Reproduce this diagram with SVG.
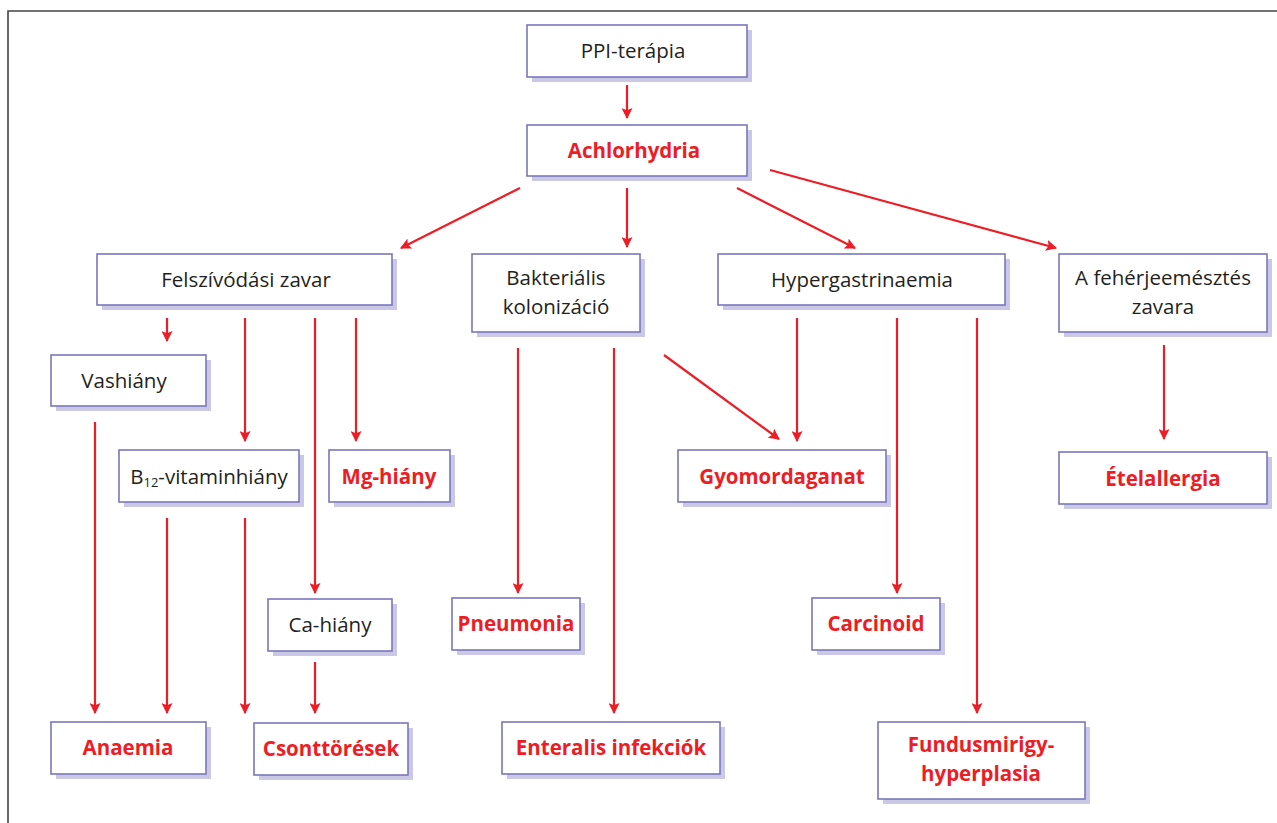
<svg xmlns="http://www.w3.org/2000/svg" width="1277" height="823" viewBox="0 0 1277 823">
<defs>
<style>
.sh{fill:#cac8e4}
.bx{fill:#fff;stroke:#7a76bf;stroke-width:1.6}
.t{font-family:"Open Sans","Noto Sans",sans-serif;font-size:20.5px;fill:#231f20;text-anchor:middle}
.r{font-family:"Open Sans","Noto Sans",sans-serif;font-size:20.5px;font-weight:bold;fill:#ee1c25;text-anchor:middle}
.c line{stroke:#ee1c25;stroke-width:2.2;marker-end:url(#ah)}
</style>
<marker id="ah" viewBox="0 0 10 10" refX="9" refY="5" markerWidth="5.5" markerHeight="5" orient="auto" markerUnits="strokeWidth">
<path d="M0,0 L10,5 L0,10 L2,5 Z" fill="#ee1c25"/>
</marker>
</defs>
<rect width="1277" height="823" fill="#fff"/>
<path d="M8,823 V11 H1277" fill="none" stroke="#444" stroke-width="1.6"/>

<g class="c">
<line x1="627" y1="85" x2="627" y2="118"/>
<line x1="520" y1="188" x2="401" y2="248"/>
<line x1="627" y1="188" x2="627" y2="247"/>
<line x1="737" y1="188" x2="855" y2="248"/>
<line x1="770" y1="170" x2="1056" y2="248"/>
<line x1="167" y1="318" x2="167" y2="341"/>
<line x1="245" y1="318" x2="245" y2="441"/>
<line x1="315" y1="318" x2="315" y2="593"/>
<line x1="356" y1="318" x2="356" y2="441"/>
<line x1="95" y1="422" x2="95" y2="713"/>
<line x1="167" y1="518" x2="167" y2="713"/>
<line x1="245" y1="518" x2="245" y2="713"/>
<line x1="315" y1="662" x2="315" y2="713"/>
<line x1="518" y1="348" x2="518" y2="593"/>
<line x1="614" y1="348" x2="614" y2="713"/>
<line x1="664" y1="355" x2="779" y2="439"/>
<line x1="797" y1="318" x2="797" y2="441"/>
<line x1="897" y1="318" x2="897" y2="593"/>
<line x1="977" y1="318" x2="977" y2="713"/>
<line x1="1164" y1="345" x2="1164" y2="439"/>
</g>

<g id="ppi"><rect class="sh" x="532" y="30" width="220" height="52"/><rect class="bx" x="527" y="25" width="220" height="52"/><text class="t" x="633" y="58">PPI-terápia</text></g>
<g id="achlorhydria"><rect class="sh" x="532" y="130" width="220" height="51"/><rect class="bx" x="527" y="125" width="220" height="51"/><text class="r" x="634" y="158">Achlorhydria</text></g>
<g id="felszivodasi"><rect class="sh" x="102" y="259" width="295" height="51"/><rect class="bx" x="97" y="254" width="295" height="51"/><text class="t" x="246" y="287">Felszívódási zavar</text></g>
<g id="bakterialis"><rect class="sh" x="477" y="259" width="168" height="78"/><rect class="bx" x="472" y="254" width="168" height="78"/><text class="t" x="556" y="285">Bakteriális</text><text class="t" x="556" y="314">kolonizáció</text></g>
<g id="hypergastrinaemia"><rect class="sh" x="723" y="259" width="287" height="51"/><rect class="bx" x="718" y="254" width="287" height="51"/><text class="t" x="862" y="287">Hypergastrinaemia</text></g>
<g id="feherje"><rect class="sh" x="1064" y="259" width="208" height="78"/><rect class="bx" x="1059" y="254" width="208" height="78"/><text class="t" x="1163" y="285">A fehérjeemésztés</text><text class="t" x="1163" y="314">zavara</text></g>
<g id="vashiany"><rect class="sh" x="56" y="360" width="155" height="51"/><rect class="bx" x="51" y="355" width="155" height="51"/><text class="t" x="124" y="388">Vashiány</text></g>
<g id="b12"><rect class="sh" x="124" y="455" width="180" height="52"/><rect class="bx" x="119" y="450" width="180" height="52"/><text class="t" x="209" y="484">B<tspan font-size="13" dy="3">12</tspan><tspan dy="-3">-vitaminhiány</tspan></text></g>
<g id="mg"><rect class="sh" x="334" y="455" width="121" height="52"/><rect class="bx" x="329" y="450" width="121" height="52"/><text class="r" x="389" y="484">Mg-hiány</text></g>
<g id="gyomordaganat"><rect class="sh" x="683" y="455" width="208" height="52"/><rect class="bx" x="678" y="450" width="208" height="52"/><text class="r" x="782" y="484">Gyomordaganat</text></g>
<g id="etelallergia"><rect class="sh" x="1064" y="457" width="208" height="52"/><rect class="bx" x="1059" y="452" width="208" height="52"/><text class="r" x="1163" y="486">Ételallergia</text></g>
<g id="cahiany"><rect class="sh" x="273" y="604" width="124" height="52"/><rect class="bx" x="268" y="599" width="124" height="52"/><text class="t" x="330" y="632">Ca-hiány</text></g>
<g id="pneumonia"><rect class="sh" x="457" y="603" width="128" height="52"/><rect class="bx" x="452" y="598" width="128" height="52"/><text class="r" x="516" y="631">Pneumonia</text></g>
<g id="carcinoid"><rect class="sh" x="817" y="603" width="128" height="52"/><rect class="bx" x="812" y="598" width="128" height="52"/><text class="r" x="876" y="631">Carcinoid</text></g>
<g id="anaemia"><rect class="sh" x="56" y="727" width="155" height="52"/><rect class="bx" x="51" y="722" width="155" height="52"/><text class="r" x="128" y="755">Anaemia</text></g>
<g id="csonttoresek"><rect class="sh" x="259" y="728" width="154" height="52"/><rect class="bx" x="254" y="723" width="154" height="52"/><text class="r" x="331" y="756">Csonttörések</text></g>
<g id="enteralis"><rect class="sh" x="507" y="727" width="218" height="52"/><rect class="bx" x="502" y="722" width="218" height="52"/><text class="r" x="611" y="755">Enteralis infekciók</text></g>
<g id="fundus"><rect class="sh" x="883" y="727" width="207" height="77"/><rect class="bx" x="878" y="722" width="207" height="77"/><text class="r" x="981" y="752">Fundusmirigy-</text><text class="r" x="981" y="781">hyperplasia</text></g>
</svg>
